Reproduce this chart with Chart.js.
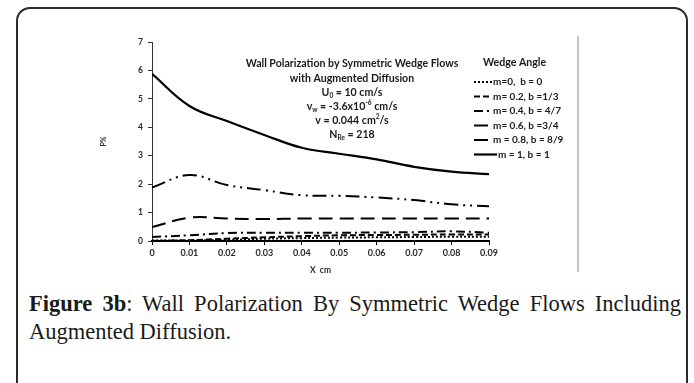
<!DOCTYPE html>
<html>
<head>
<meta charset="utf-8">
<script src="https://cdn.jsdelivr.net/npm/chart.js@4.4.1/dist/chart.umd.min.js"></script>
<style>
  html, body { margin: 0; padding: 0; background: #fff; }
  body { width: 694px; height: 383px; position: relative; overflow: hidden; }
  #card {
    position: absolute; left: 16px; top: 7px; width: 672px; height: 420px;
    border: 2px solid #2b2b2b; border-radius: 14px; box-sizing: border-box;
  }
  #divisor { position: absolute; left: 577px; top: 36px; width: 2px; height: 236px; background: #c4c4c4; }
  #grafico { position: absolute; left: 0; top: 0; }
  #legenda {
    position: absolute; left: 29px; top: 290px; width: 652px;
    font-family: "Liberation Serif", serif; font-size: 22.5px; color: #1a1a1a; line-height: 28px;
  }
  #legenda .l1 { text-align: justify; text-align-last: justify; white-space: nowrap; }
</style>
</head>
<body>
<div id="card"></div>
<div id="divisor"></div>
<canvas id="grafico" width="694" height="275"></canvas>
<div id="legenda">
  <div class="l1"><b>Figure 3b</b>: Wall Polarization By Symmetric Wedge Flows Including</div>
  <div>Augmented Diffusion.</div>
</div>
<script>
// Dados
const posX = [0, 0.01, 0.02, 0.03, 0.04, 0.05, 0.06, 0.07, 0.08, 0.09];
const m0  = [0.02, 0.02, 0.04, 0.08, 0.10, 0.12, 0.13, 0.14, 0.15, 0.15];
const m02 = [0.00, 0.03, 0.08, 0.13, 0.17, 0.20, 0.21, 0.22, 0.23, 0.23];
const m04 = [0.14, 0.20, 0.28, 0.29, 0.29, 0.29, 0.30, 0.31, 0.34, 0.29];
const m06 = [0.49, 0.82, 0.79, 0.77, 0.79, 0.79, 0.79, 0.79, 0.79, 0.79];
const m08 = [1.88, 2.32, 1.97, 1.79, 1.61, 1.59, 1.53, 1.44, 1.29, 1.22];
const m1  = [5.88, 4.75, 4.22, 3.73, 3.28, 3.07, 2.87, 2.61, 2.44, 2.35];

const rotulos = ["m=0,  b = 0", "m= 0.2, b =1/3", "m= 0.4, b = 4/7", "m= 0.6, b =3/4", "m = 0.8, b = 8/9", "m = 1, b = 1"];
const tracos = [[2, 2], [6, 3], [9, 4, 2, 4], [14, 7], [14, 5, 2, 5, 2, 5], []];
const series = [m0, m02, m04, m06, m08, m1];

const fonteTexto = '"Lato", "Open Sans", sans-serif';

// Desenha um texto com subscritos/sobrescritos centralizado
function textoRico(ctx, partes, cx, y, tam) {
    let largura = 0;
    partes.forEach(p => {
        ctx.font = `bold ${p.t ? tam * 0.62 : tam}px ${fonteTexto}`;
        largura += ctx.measureText(p.s).width;
    });
    let x = cx - largura / 2;
    partes.forEach(p => {
        ctx.font = `bold ${p.t ? tam * 0.62 : tam}px ${fonteTexto}`;
        const dy = p.t === 'sub' ? tam * 0.3 : p.t === 'sup' ? -tam * 0.35 : 0;
        ctx.fillText(p.s, x, y + dy);
        x += ctx.measureText(p.s).width;
    });
}

const anotacoes = {
    id: 'anotacoes',
    afterDraw(chart) {
        const ctx = chart.ctx;
        ctx.save();
        ctx.fillStyle = '#1a1a1a';
        ctx.textBaseline = 'middle';
        ctx.textAlign = 'left';
        const cx = 352, tam = 10.6;
        textoRico(ctx, [{s: 'Wall Polarization by Symmetric Wedge Flows'}], cx, 64, tam);
        textoRico(ctx, [{s: 'with Augmented Diffusion'}], cx, 79, tam);
        textoRico(ctx, [{s: 'U'}, {s: '0', t: 'sub'}, {s: ' = 10 cm/s'}], cx, 93, tam);
        textoRico(ctx, [{s: 'v'}, {s: 'w', t: 'sub'}, {s: ' = -3.6x10'}, {s: '-6', t: 'sup'}, {s: ' cm/s'}], cx, 107, tam);
        textoRico(ctx, [{s: 'v = 0.044 cm'}, {s: '2', t: 'sup'}, {s: '/s'}], cx, 121, tam);
        textoRico(ctx, [{s: 'N'}, {s: 'Re', t: 'sub'}, {s: ' = 218'}], cx, 135, tam);

        // Legenda
        ctx.font = `bold 10.6px ${fonteTexto}`;
        ctx.fillText('Wedge Angle', 483, 63);
        ctx.font = `bold 10px ${fonteTexto}`;
        chart.data.datasets.forEach((ds, i) => {
            const y = 82 + i * 14.5;
            const fim = i === 5 ? 497 : 492;
            ctx.strokeStyle = ds.borderColor;
            ctx.lineWidth = ds.borderWidth;
            ctx.setLineDash(ds.borderDash);
            ctx.beginPath();
            ctx.moveTo(474, y);
            ctx.lineTo(fim, y);
            ctx.stroke();
            ctx.setLineDash([]);
            ctx.fillText(ds.label, fim + 1, y);
        });
        ctx.restore();
    }
};

const datasets = series.map((s, i) => ({
    label: rotulos[i],
    data: posX.map((x, j) => ({x: x, y: s[j]})),
    borderColor: '#000',
    borderWidth: i === 5 ? 2.2 : 2,
    borderDash: tracos[i],
    pointRadius: 0,
    tension: 0.4,
    fill: false
}));

new Chart(document.getElementById('grafico'), {
    type: 'line',
    data: { datasets: datasets },
    options: {
        responsive: false,
        animation: false,
        devicePixelRatio: 1,
        layout: { padding: { left: 100, top: 42, right: 205, bottom: 0 } },
        plugins: { legend: { display: false }, tooltip: { enabled: false } },
        scales: {
            x: {
                type: 'linear', min: 0, max: 0.09,
                afterFit: s => { s.height = 34; },
                border: { color: '#000', width: 2 },
                grid: { drawOnChartArea: false, tickLength: 4, color: '#000', tickWidth: 1 },
                ticks: {
                    stepSize: 0.01, maxRotation: 0, autoSkip: false, padding: 3,
                    color: '#2a2a2a', font: { family: fonteTexto, size: 9, weight: 'bold' },
                    callback: v => v === 0 ? '0' : v.toFixed(2)
                },
                title: { display: true, text: 'X  cm', color: '#2a2a2a', padding: 0,
                         font: { family: fonteTexto, size: 8.5, weight: 'bold' } }
            },
            y: {
                min: 0, max: 7,
                afterFit: s => { s.width = 52; },
                border: { color: '#333', width: 1 },
                grid: { drawOnChartArea: false, tickLength: 4, color: '#333' },
                ticks: {
                    stepSize: 1, padding: 5,
                    color: '#2a2a2a', font: { family: fonteTexto, size: 8.5, weight: 'bold' }
                },
                title: { display: true, text: 'P%', color: '#2a2a2a', padding: 0,
                         font: { family: fonteTexto, size: 7, weight: 'bold' } }
            }
        }
    },
    plugins: [anotacoes]
});
</script>
</body>
</html>
